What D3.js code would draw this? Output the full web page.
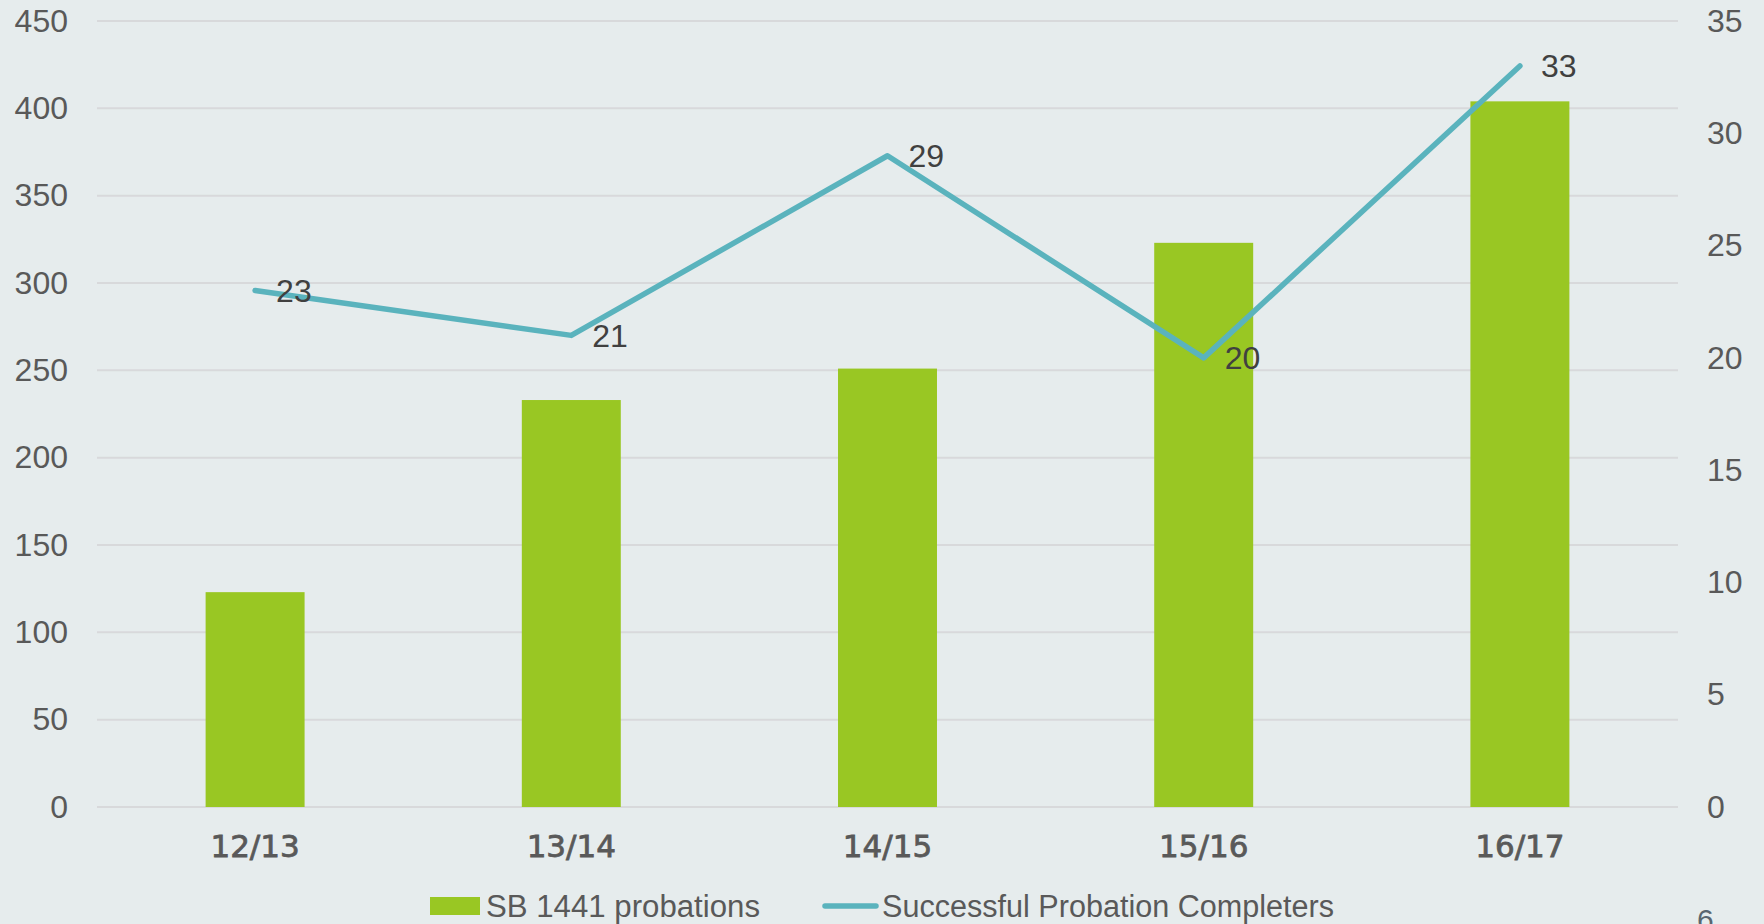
<!DOCTYPE html>
<html>
<head>
<meta charset="utf-8">
<script src="https://cdn.jsdelivr.net/npm/d3@7"></script>
<style>
  body { margin: 0; background: #e6eced; }
  svg { display: block; }
</style>
</head>
<body>
<div class="chart"></div>
<script>
// data
const years = ["12/13", "13/14", "14/15", "15/16", "16/17"];
const probations = [123, 233, 251, 323, 404];
const completers = [23, 21, 29, 20, 33];
const leftTicks = [0, 50, 100, 150, 200, 250, 300, 350, 400, 450];
const rightTicks = [0, 5, 10, 15, 20, 25, 30, 35];

const W = 1764, H = 924;
const margin = {top: 21, right: 86, bottom: 117, left: 97};
const width = W - margin.left - margin.right;
const height = H - margin.top - margin.bottom;

const svg = d3.select(".chart").append("svg")
    .attr("width", W)
    .attr("height", H)
    .style("background", "#e6eced");

const g = svg.append("g")
    .attr("transform", "translate(" + margin.left + "," + margin.top + ")");

const x = d3.scaleBand().domain(years).range([0, width]);
const yL = d3.scaleLinear().domain([0, 450]).range([height, 0]);
const yR = d3.scaleLinear().domain([0, 35]).range([height, 0]);

// gridlines
g.append("g")
    .selectAll("line")
    .data(leftTicks)
    .enter().append("line")
    .attr("x1", 0).attr("x2", width)
    .attr("y1", d => yL(d)).attr("y2", d => yL(d))
    .attr("stroke", "#d8d9db")
    .attr("stroke-width", 2);

// left axis
const left = g.append("g")
    .call(d3.axisLeft(yL).tickValues(leftTicks).tickSize(0).tickPadding(29));
left.select(".domain").remove();
left.selectAll("text")
    .attr("font-family", "Liberation Sans, Arial, sans-serif")
    .attr("font-size", 32)
    .attr("fill", "#595959");

// right axis
const right = g.append("g")
    .attr("transform", "translate(" + width + ",0)")
    .call(d3.axisRight(yR).tickValues(rightTicks).tickSize(0).tickPadding(29));
right.select(".domain").remove();
right.selectAll("text")
    .attr("font-family", "Liberation Sans, Arial, sans-serif")
    .attr("font-size", 32)
    .attr("fill", "#595959");

// bars
const barW = x.bandwidth() * 0.313;
g.selectAll("rect.bar")
    .data(probations)
    .enter().append("rect")
    .attr("class", "bar")
    .attr("x", (d, i) => x(years[i]) + x.bandwidth() / 2 - barW / 2)
    .attr("y", d => yL(d))
    .attr("width", barW)
    .attr("height", d => height - yL(d))
    .attr("fill", "#99c723");

// bottom axis
const bottom = g.append("g")
    .attr("transform", "translate(0," + height + ")")
    .call(d3.axisBottom(x).tickSize(0).tickPadding(28));
bottom.select(".domain").remove();
bottom.selectAll("text")
    .attr("font-family", "DejaVu Sans, sans-serif")
    .attr("font-size", 31)
    .attr("fill", "#595959")
    .attr("stroke", "#595959")
    .attr("stroke-width", 0.8);

// line
const line = d3.line()
    .x((d, i) => x(years[i]) + x.bandwidth() / 2)
    .y(d => yR(d));

g.append("path")
    .datum(completers)
    .attr("d", line)
    .attr("fill", "none")
    .attr("stroke", "#5ab3bd")
    .attr("stroke-width", 5.5)
    .attr("stroke-linecap", "round")
    .attr("stroke-linejoin", "round");

// data labels
g.selectAll("text.lbl")
    .data(completers)
    .enter().append("text")
    .attr("class", "lbl")
    .attr("x", (d, i) => x(years[i]) + x.bandwidth() / 2 + 21)
    .attr("y", d => yR(d))
    .attr("dy", "0.36em")
    .attr("font-family", "Liberation Sans, Arial, sans-serif")
    .attr("font-size", 32)
    .attr("fill", "#404040")
    .text(d => d);

// legend
const legend = svg.append("g");
const legendFont = "Liberation Sans Narrow, Liberation Sans, Arial, sans-serif";
legend.append("rect")
    .attr("x", 430).attr("y", 897)
    .attr("width", 50).attr("height", 18)
    .attr("fill", "#99c723");
legend.append("text")
    .attr("x", 486).attr("y", 917)
    .attr("font-family", legendFont)
    .attr("font-size", 31)
    .attr("fill", "#595959")
    .attr("textLength", 274)
    .attr("lengthAdjust", "spacingAndGlyphs")
    .text("SB 1441 probations");
legend.append("line")
    .attr("x1", 825).attr("x2", 876)
    .attr("y1", 906).attr("y2", 906)
    .attr("stroke", "#5ab3bd")
    .attr("stroke-width", 5.5)
    .attr("stroke-linecap", "round");
legend.append("text")
    .attr("x", 882).attr("y", 917)
    .attr("font-family", legendFont)
    .attr("font-size", 31)
    .attr("fill", "#595959")
    .attr("textLength", 452)
    .attr("lengthAdjust", "spacingAndGlyphs")
    .text("Successful Probation Completers");

// page number
svg.append("text")
    .attr("x", 1697).attr("y", 930)
    .attr("font-family", "Liberation Sans, Arial, sans-serif")
    .attr("font-size", 30)
    .attr("fill", "#5a6670")
    .text("6");
</script>
</body>
</html>
